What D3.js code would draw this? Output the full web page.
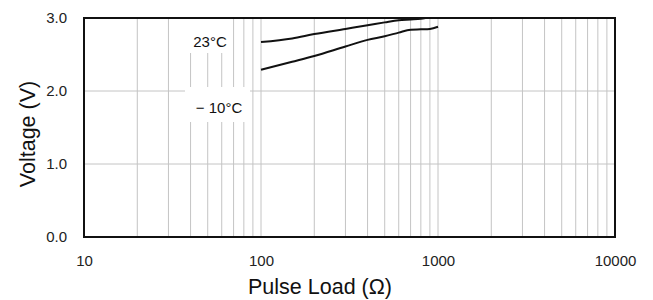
<!DOCTYPE html>
<html>
<head>
<meta charset="utf-8">
<script src="https://cdn.jsdelivr.net/npm/d3@7"></script>
<style>
    body { margin: 0; background: #fff; }
    svg { font-family: "Liberation Sans", Arial, sans-serif; }
</style>
</head>
<body>
<svg id="chart" width="653" height="300"></svg>
<script>
// x tick labels and grid
var xTicks = [10, 100, 1000, 10000];
var yTicks = [0, 1, 2, 3];

// 23 C curve
var load23 = [100, 150, 200, 300, 400, 500, 600, 700, 800, 850];
var volt23 = [2.67, 2.72, 2.78, 2.85, 2.90, 2.94, 2.97, 2.98, 2.99, 3.0];

// -10 C curve
var loadM10 = [100, 150, 200, 300, 400, 500, 600, 700, 800, 900, 1000];
var voltM10 = [2.29, 2.40, 2.48, 2.61, 2.70, 2.75, 2.80, 2.84, 2.845, 2.85, 2.88];

var svg = d3.select("#chart");
// plot box (note: "top" is taken by window.top)
var pLeft = 84, pRight = 615, pTop = 18, pBottom = 237;

var x = d3.scaleLog().domain([10, 10000]).range([pLeft, pRight]);
var y = d3.scaleLinear().domain([0, 3]).range([pBottom, pTop]);

//minor grid lines 20..90, 200..900 etc
var gridVals = [];
for (var d = 10; d < 10000; d *= 10) {
    for (var k = 1; k <= 9; k++) {
        if (d * k > 10) gridVals.push(d * k);
    }
}
svg.append("g").selectAll("line").data(gridVals).join("line")
    .attr("x1", function (v) { return x(v); })
    .attr("x2", function (v) { return x(v); })
    .attr("y1", pTop).attr("y2", pBottom)
    .attr("stroke", "#c4c4c4").attr("stroke-width", 1);

svg.append("g").selectAll("line").data([1, 2]).join("line")
    .attr("x1", pLeft).attr("x2", pRight)
    .attr("y1", function (v) { return y(v); })
    .attr("y2", function (v) { return y(v); })
    .attr("stroke", "#c4c4c4").attr("stroke-width", 1);

// white boxes behind the temperature labels
svg.append("rect").attr("x", 186).attr("y", pTop).attr("width", 45).attr("height", 35).attr("fill", "#fff");
svg.append("rect").attr("x", 185).attr("y", 87).attr("width", 65).attr("height", 35).attr("fill", "#fff");

svg.append("text").attr("x", 210).attr("y", 47).attr("text-anchor", "middle")
    .attr("font-size", 15).attr("fill", "#111").text("23°C");
svg.append("text").attr("x", 219).attr("y", 113).attr("text-anchor", "middle")
    .attr("font-size", 15).attr("fill", "#111").text("− 10°C");

var line = d3.line()
    .x(function (p) { return x(p[0]); })
    .y(function (p) { return y(p[1]); })
    .curve(d3.curveMonotoneX);

svg.append("path").datum(d3.zip(load23, volt23)).attr("d", line)
    .attr("fill", "none").attr("stroke", "#111").attr("stroke-width", 2);
svg.append("path").datum(d3.zip(loadM10, voltM10)).attr("d", line)
    .attr("fill", "none").attr("stroke", "#111").attr("stroke-width", 2);

// frame
svg.append("rect").attr("x", pLeft).attr("y", pTop)
    .attr("width", pRight - pLeft).attr("height", pBottom - pTop)
    .attr("fill", "none").attr("stroke", "#111").attr("stroke-width", 2);

// axes
var xAxis = svg.append("g").attr("transform", "translate(0," + (pBottom + 15) + ")")
    .call(d3.axisBottom(x).tickValues(xTicks).tickSize(0).tickFormat(d3.format("d")));
xAxis.select(".domain").remove();
xAxis.selectAll("text").attr("font-size", 15).attr("fill", "#222").attr("font-family", null);

var yAxis = svg.append("g").attr("transform", "translate(" + (pLeft - 14) + ",0)")
    .call(d3.axisLeft(y).tickValues(yTicks).tickSize(0).tickFormat(d3.format(".1f")));
yAxis.select(".domain").remove();
yAxis.selectAll("text").attr("font-size", 15).attr("fill", "#222").attr("font-family", null);

svg.append("text").attr("x", 320).attr("y", 294).attr("text-anchor", "middle")
    .attr("font-size", 21.5).attr("fill", "#111").text("Pulse Load (Ω)");
svg.append("text").attr("transform", "translate(35,134) rotate(-90)")
    .attr("text-anchor", "middle").attr("font-size", 21.5).attr("fill", "#111")
    .text("Voltage (V)");
</script>
</body>
</html>
